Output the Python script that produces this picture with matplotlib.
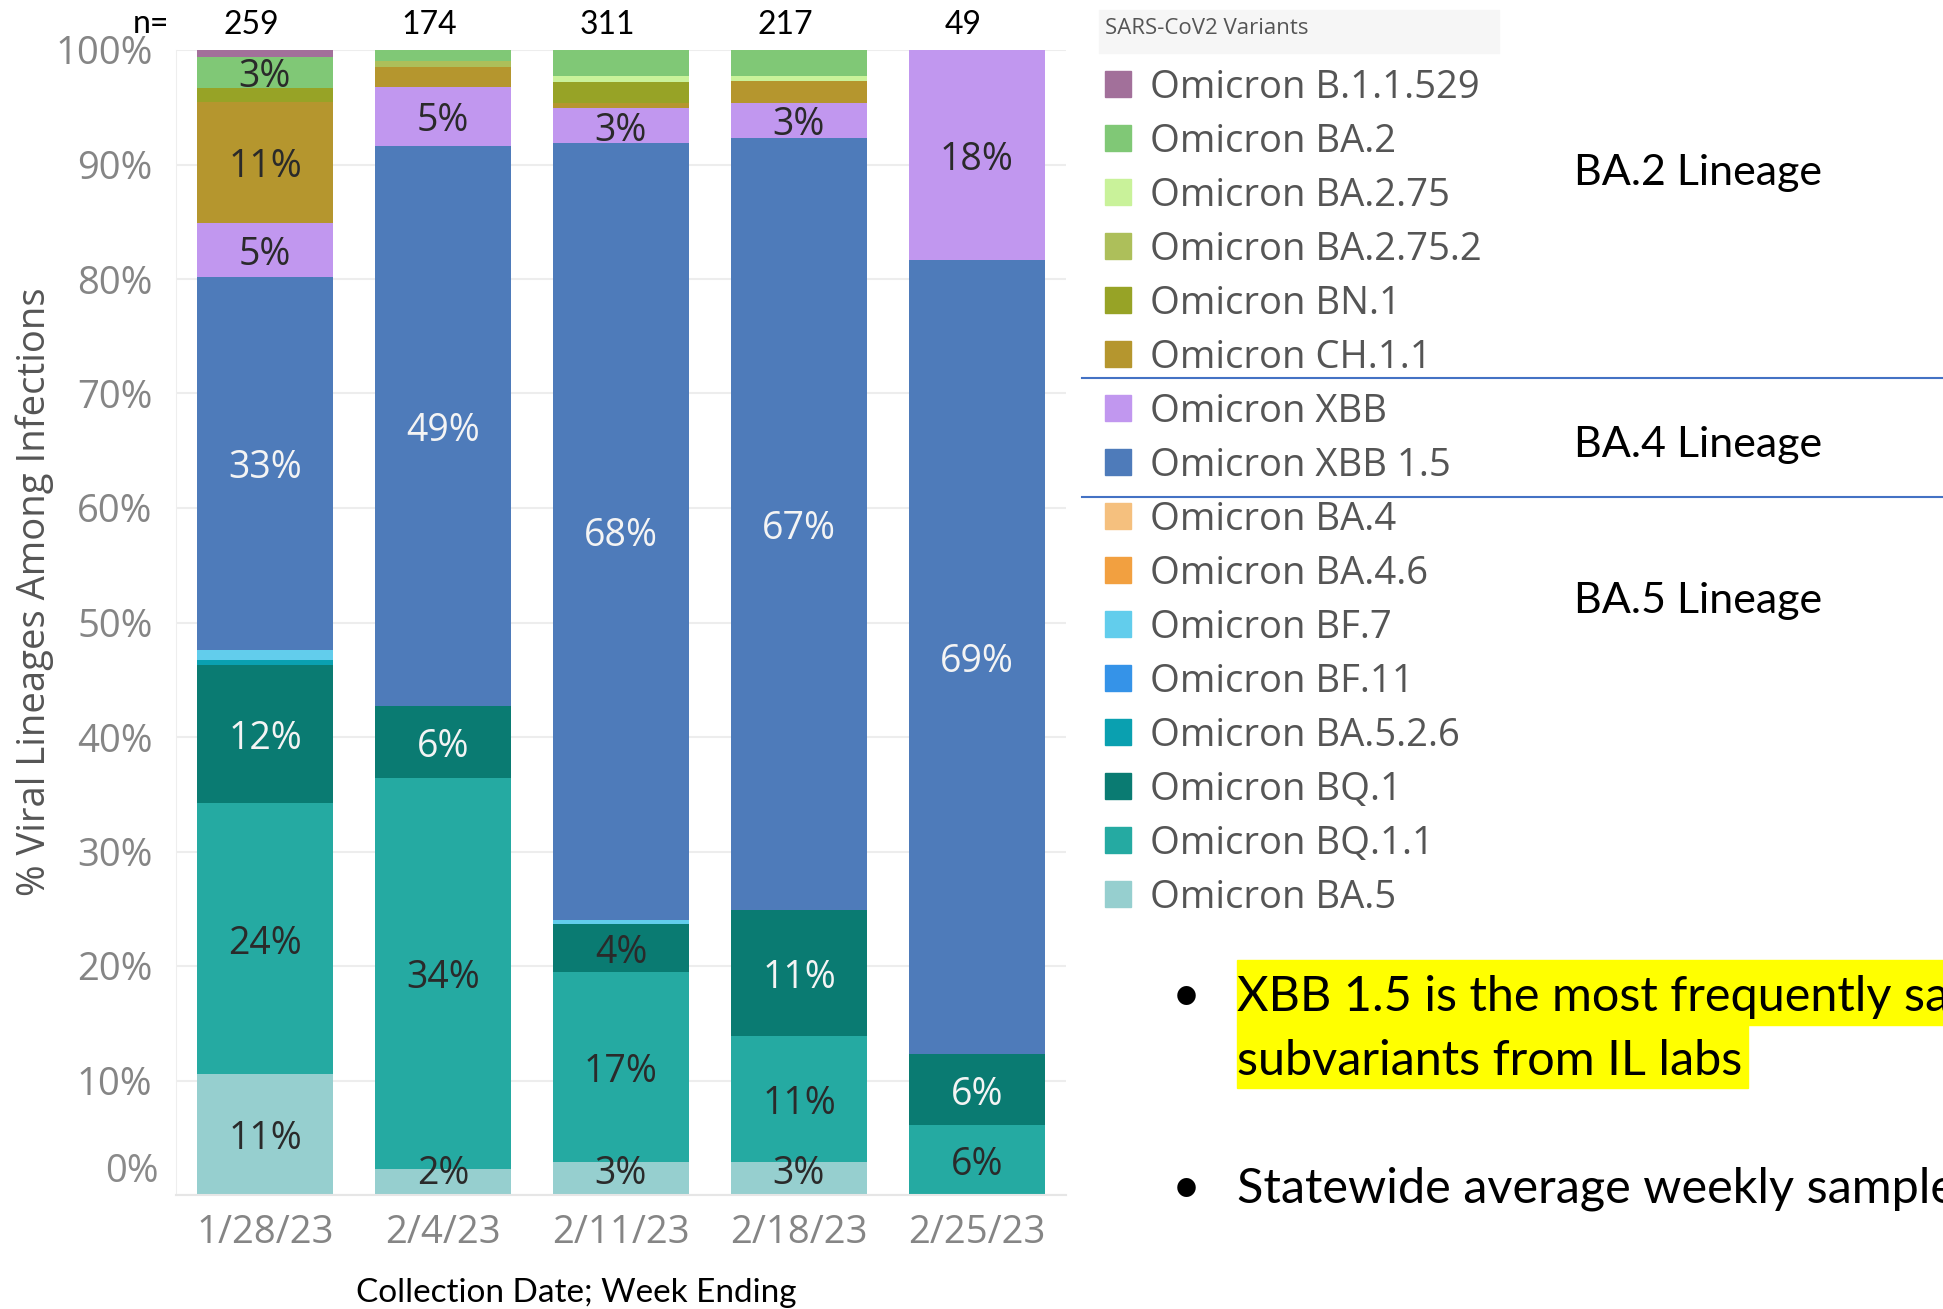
import matplotlib.pyplot as plt
from matplotlib.patches import Rectangle

# данные: доли вариантов (%) по неделям
weeks = ['1/28/23', '2/4/23', '2/11/23', '2/18/23', '2/25/23']
n_counts = [259, 174, 311, 217, 49]

variants = ['Omicron B.1.1.529', 'Omicron BA.2', 'Omicron BA.2.75', 'Omicron BA.2.75.2',
            'Omicron BN.1', 'Omicron CH.1.1', 'Omicron XBB', 'Omicron XBB 1.5',
            'Omicron BA.4', 'Omicron BA.4.6', 'Omicron BF.7', 'Omicron BF.11',
            'Omicron BA.5.2.6', 'Omicron BQ.1', 'Omicron BQ.1.1', 'Omicron BA.5']
colors = ['#a2709a', '#80c876', '#c9f29a', '#adbf5a', '#97a326', '#b5962e', '#c197ef', '#4e7bba',
          '#f5c07e', '#f2a040', '#62cdec', '#3593e8', '#0aa0b0', '#0a7b72', '#25aaa2', '#96cfcf']

b11529 = [0.6, 0, 0, 0, 0]
ba2 = [2.7, 1.0, 2.3, 2.3, 0]
ba275 = [0, 0, 0.5, 0.4, 0]
ba2752 = [0, 0.5, 0, 0, 0]
bn1 = [1.2, 0, 1.8, 0, 0]
ch11 = [10.6, 1.7, 0.5, 1.9, 0]
xbb = [4.7, 5.2, 3.0, 3.1, 18.3]
xbb15 = [32.6, 48.9, 67.9, 67.4, 69.4]
ba4 = [0, 0, 0, 0, 0]
ba46 = [0, 0, 0, 0, 0]
bf7 = [0.9, 0, 0.3, 0, 0]
bf11 = [0, 0, 0, 0, 0]
ba526 = [0.4, 0, 0, 0, 0]
bq1 = [12.1, 6.3, 4.2, 11.0, 6.2]
bq11 = [23.6, 34.1, 16.6, 11.0, 6.1]
ba5 = [10.6, 2.3, 2.9, 2.9, 0]

values = [b11529, ba2, ba275, ba2752, bn1, ch11, xbb, xbb15,
          ba4, ba46, bf7, bf11, ba526, bq1, bq11, ba5]

# какие сегменты подписаны (w = белый текст)
labeled = [
    {'Omicron BA.2': 'd', 'Omicron CH.1.1': 'd', 'Omicron XBB': 'd', 'Omicron XBB 1.5': 'w',
     'Omicron BQ.1': 'w', 'Omicron BQ.1.1': 'd', 'Omicron BA.5': 'd'},
    {'Omicron XBB': 'd', 'Omicron XBB 1.5': 'w', 'Omicron BQ.1': 'w', 'Omicron BQ.1.1': 'd', 'Omicron BA.5': 'd'},
    {'Omicron XBB': 'd', 'Omicron XBB 1.5': 'w', 'Omicron BQ.1': 'd', 'Omicron BQ.1.1': 'd', 'Omicron BA.5': 'd'},
    {'Omicron XBB': 'd', 'Omicron XBB 1.5': 'w', 'Omicron BQ.1': 'w', 'Omicron BQ.1.1': 'd', 'Omicron BA.5': 'd'},
    {'Omicron XBB': 'd', 'Omicron XBB 1.5': 'w', 'Omicron BQ.1': 'w', 'Omicron BQ.1.1': 'd'},
]

lineages = ['BA.2 Lineage', 'BA.4 Lineage', 'BA.5 Lineage']

W, H = 1943, 1309
fig = plt.figure(figsize=(W / 100, H / 100), dpi=100)

def fx(px):
    return px / W

def fy(py):
    return 1 - py / H

tab = 'Open Sans'
cal = 'Lato'

ax = fig.add_axes([fx(176), fy(1195), fx(1066) - fx(176), fy(50) - fy(1195)])

x = range(len(weeks))
bottom = [0] * len(weeks)
# стек снизу вверх: порядок обратный легенде
for name, col, vals in reversed(list(zip(variants, colors, values))):
    ax.bar(x, vals, bottom=bottom, width=0.76, color=col, linewidth=0, zorder=2)
    for i, v in enumerate(vals):
        lab = labeled[i].get(name)
        if lab and v > 0:
            yc = max(bottom[i] + v / 2, 2.3)
            ax.annotate(f'{round(v)}%', xy=(i, yc), xytext=(0, -5), textcoords='offset pixels',
                        ha='center', va='center', fontsize=27, family=tab,
                        color='#f4f4f4' if lab == 'w' else '#2a2a2a', zorder=3)
    bottom = [b + v for b, v in zip(bottom, vals)]

ax.set_xlim(-0.5, len(weeks) - 0.5)
ax.set_ylim(0, 100)
ax.set_yticks(range(0, 101, 10))
ax.set_yticklabels([''] + [f'{t}%' for t in range(10, 101, 10)])
ax.annotate('0%', xy=(0, 0), xycoords=('axes fraction', 'data'), xytext=(-17, 23),
            textcoords='offset pixels', ha='right', va='center', fontsize=27.5,
            family=tab, color='#8a8a8a')
ax.set_xticks(list(x))
ax.set_xticklabels(weeks)
ax.tick_params(axis='both', length=0, labelsize=27.5, labelcolor='#858585')
ax.tick_params(axis='y', pad=17)
ax.tick_params(axis='x', pad=14)
for lbl in ax.get_xticklabels() + ax.get_yticklabels():
    lbl.set_family(tab)
ax.grid(axis='y', color='#ededed', linewidth=1.5, zorder=0)
for s in ['top', 'right']:
    ax.spines[s].set_visible(False)
ax.spines['left'].set_color('#eeeeee')
ax.spines['bottom'].set_color('#e6e6e6')
ax.spines['bottom'].set_linewidth(1.5)

# n= подписи сверху
fig.text(fx(151), fy(24), 'n=', ha='center', va='center', fontsize=23, family=cal)
for i, n in enumerate(n_counts):
    ax.annotate(str(n), xy=(i, 100), xytext=(-14, 25), textcoords='offset pixels',
                ha='center', va='center', fontsize=23, family=cal, annotation_clip=False)

fig.text(fx(576), fy(1293), 'Collection Date; Week Ending', ha='center', va='center',
         fontsize=24, family=cal)
fig.text(fx(35), fy(592), '% Viral Lineages Among Infections', rotation=90,
         ha='center', va='center', fontsize=27.5, family=tab, color='#555555')

# легенда
fig.patches.append(Rectangle((fx(1099), fy(53)), fx(1499) - fx(1099), fy(10) - fy(53),
                             transform=fig.transFigure, color='#f6f6f6', zorder=0))
fig.text(fx(1105), fy(29), 'SARS-CoV2 Variants', ha='left', va='center', fontsize=16,
         family=tab, color='#555555')
for k, (name, col) in enumerate(zip(variants, colors)):
    yy = 84.3 + 54.0 * k
    fig.patches.append(Rectangle((fx(1105), fy(yy + 13)), fx(26), 26 / H,
                                 transform=fig.transFigure, color=col))
    fig.text(fx(1150), fy(yy + 4), name, ha='left', va='center', fontsize=27.5,
             family=tab, color='#555555')

for yy in [378, 497]:
    fig.add_artist(plt.Line2D([fx(1082), 1], [fy(yy), fy(yy)], color='#4472c4',
                              linewidth=1.5, transform=fig.transFigure))

for lin, yy in zip(lineages, [173, 445, 601]):
    fig.text(fx(1574), fy(yy), lin, ha='left', va='center', fontsize=31, family=cal)

# маркированный текст
fig.patches.append(Rectangle((fx(1237), fy(1025)), 1 - fx(1237), fy(960) - fy(1025),
                             transform=fig.transFigure, color='#ffff00', zorder=0))
fig.patches.append(Rectangle((fx(1237), fy(1088)), fx(1748) - fx(1237), fy(1025) - fy(1088),
                             transform=fig.transFigure, color='#ffff00', zorder=0))
fig.text(fx(1186), fy(997), '•', ha='center', va='center', fontsize=36, family=cal)
fig.text(fx(1237), fy(997), 'XBB 1.5 is the most frequently sampled', ha='left',
         va='center', fontsize=35, family=cal)
fig.text(fx(1237), fy(1061), 'subvariants from IL labs', ha='left', va='center',
         fontsize=35, family=cal)
fig.text(fx(1186), fy(1189), '•', ha='center', va='center', fontsize=36, family=cal)
fig.text(fx(1237), fy(1189), 'Statewide average weekly samples', ha='left', va='center',
         fontsize=35, family=cal)

fig.savefig('out.png', dpi=100)
